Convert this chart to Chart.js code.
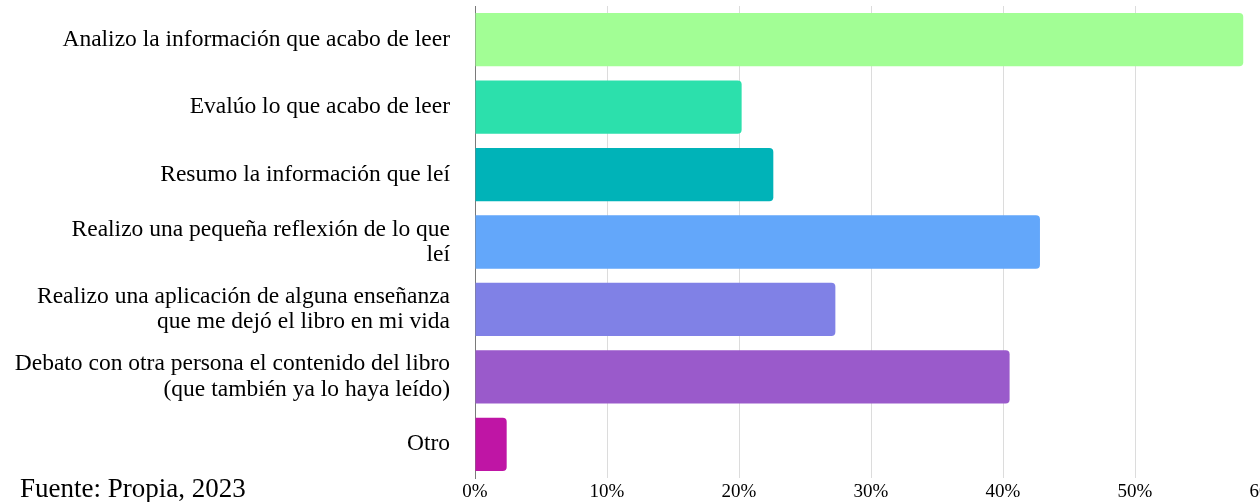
<!DOCTYPE html>
<html>
<head>
<meta charset="utf-8">
<script src="https://cdn.jsdelivr.net/npm/chart.js@4.4.1/dist/chart.umd.min.js"></script>
<style>
  html, body { margin: 0; padding: 0; background: #fff; overflow: hidden; }
  #wrap { position: relative; width: 1290px; height: 502px; }
  #source {
    position: absolute; left: 20px; top: 473px;
    font-family: "Liberation Serif", serif; font-size: 27px; color: #000;
  }
</style>
</head>
<body>
<div id="wrap">
  <canvas id="chart" width="1290" height="502"></canvas>
  <div id="source">Fuente: Propia, 2023</div>
</div>
<script>
const categories = [
  "Analizo la información que acabo de leer",
  "Evalúo lo que acabo de leer",
  "Resumo la información que leí",
  ["Realizo una pequeña reflexión de lo que", "leí"],
  ["Realizo una aplicación de alguna enseñanza", "que me dejó el libro en mi vida"],
  ["Debato con otra persona el contenido del libro", "(que también ya lo haya leído)"],
  "Otro"
];
const percentages = [58.2, 20.2, 22.6, 42.8, 27.3, 40.5, 2.4];
const barColors = ["#a2fe95", "#2ce0ac", "#00b3b8", "#63a7fa", "#8081e6", "#9a5acb", "#bf15a5"];
const tickValues = [0, 10, 20, 30, 40, 50, 60];

const ctx = document.getElementById("chart");

new Chart(ctx, {
  type: "bar",
  data: {
    labels: categories,
    datasets: [
      {
        data: percentages,
        backgroundColor: barColors,
        borderWidth: 0,
        borderRadius: 4,
        barPercentage: 0.79,
        categoryPercentage: 1,
      },
    ],
  },
  options: {
    indexAxis: "y",
    responsive: false,
    animation: false,
    layout: { padding: { top: 6, bottom: 0, left: 0, right: 23 } },
    plugins: {
      legend: { display: false },
      tooltip: { enabled: false },
    },
    scales: {
      x: {
        min: 0,
        max: 60,
        afterBuildTicks: (scale) => {
          scale.ticks = tickValues.map((v) => ({ value: v }));
        },
        afterFit: (scale) => {
          scale.height = 24;
          scale.paddingLeft = 0;
          scale.paddingRight = 0;
        },
        grid: { color: "#dcdcdc", drawTicks: false },
        border: { display: false },
        ticks: {
          padding: 3,
          color: "#000",
          font: { family: "Liberation Serif", size: 19 },
          callback: (v) => v + "%",
        },
      },
      y: {
        grid: { display: false, drawTicks: false },
        border: { display: true, color: "#7a7a7a", width: 1 },
        afterFit: (scale) => {
          scale.width = 475;
          scale.paddingTop = 0;
          scale.paddingBottom = 0;
        },
        ticks: {
          padding: 25,
          color: "#000",
          font: { family: "Liberation Serif", size: 23.5, lineHeight: 1.07 },
        },
      },
    },
  },
});
</script>
</body>
</html>
